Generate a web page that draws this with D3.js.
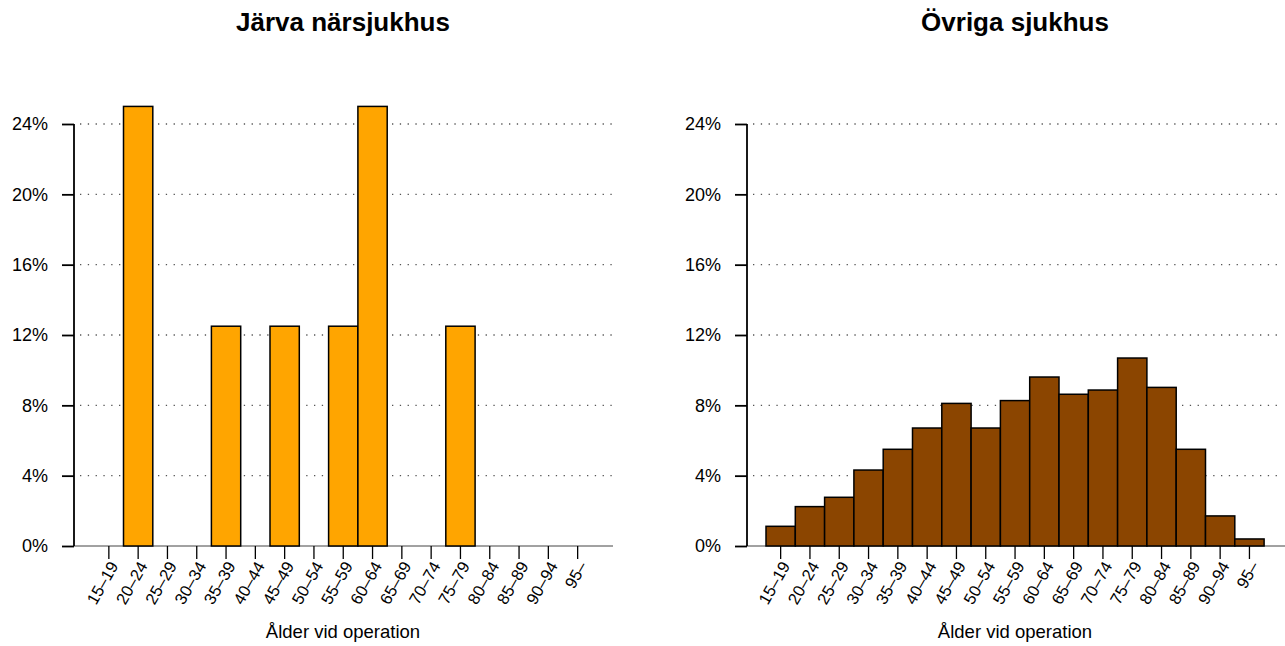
<!DOCTYPE html>
<html><head><meta charset="utf-8">
<script src="https://cdn.jsdelivr.net/npm/d3@7"></script>
<style>body{margin:0;background:#fff}svg{display:block}text{font-family:"Liberation Sans",Arial,sans-serif;fill:#000}</style>
</head><body><svg id="c" width="1285" height="646"></svg>
<script>
const categories = ["15–19","20–24","25–29","30–34","35–39","40–44","45–49","50–54","55–59","60–64","65–69","70–74","75–79","80–84","85–89","90–94","95–"];
const jarvaValues = [0,25,0,0,12.5,0,12.5,0,12.5,25,0,0,12.5,0,0,0,0];
const ovrigaValues = [1.12,2.24,2.77,4.32,5.5,6.71,8.11,6.71,8.27,9.61,8.63,8.87,10.69,9.02,5.5,1.71,0.4];
const yTicks = [0,4,8,12,16,20,24];
const titles = ["Järva närsjukhus","Övriga sjukhus"];
const xTitle = "Ålder vid operation";
const colors = ["#FFA500","#8B4500"];

const svg = d3.select("#c");
const panels = [
  {title:titles[0], values:jarvaValues, color:colors[0], axisX:74, bars:[94.2,592.3], gridX:[80,612], baseEnd:613, center:343},
  {title:titles[1], values:ovrigaValues, color:colors[1], axisX:747, bars:[766,1264.1], gridX:[753,1283], baseEnd:1285, center:1015}
];
const y = d3.scaleLinear().domain([0,24]).range([546,124]);

panels.forEach(p=>{
  const g = svg.append("g");
  const x = d3.scaleBand().domain(categories).range(p.bars).padding(0);
  // grid
  g.selectAll("line.grid").data(yTicks.filter(t=>t>0)).join("line")
    .attr("x1",p.gridX[0]).attr("x2",p.gridX[1])
    .attr("y1",d=>y(d)).attr("y2",d=>y(d))
    .attr("stroke","#555").attr("stroke-width",1.3).attr("stroke-dasharray","1.3,6.5");
  // baseline
  g.append("line").attr("x1",p.axisX).attr("x2",p.baseEnd).attr("y1",y(0)).attr("y2",y(0))
    .attr("stroke","#444").attr("stroke-width",1);
  // bars
  g.selectAll("rect").data(categories.map((c,i)=>({c,v:p.values[i]}))).join("rect")
    .attr("x",d=>x(d.c)).attr("width",x.bandwidth())
    .attr("y",d=>y(d.v)).attr("height",d=>y(0)-y(d.v))
    .attr("fill",p.color).attr("stroke","#000").attr("stroke-width",1.5);
  // y axis
  const ya = d3.axisLeft(y).tickValues(yTicks).tickFormat(d=>d+"%").tickSize(12).tickPadding(14);
  const yg = g.append("g").attr("transform",`translate(${p.axisX},0)`).call(ya);
  yg.select(".domain").attr("stroke-width",1.8).attr("d",`M0,${y(24)}V${y(0)}`);
  yg.selectAll(".tick line").attr("stroke-width",1.8);
  yg.selectAll("text").attr("font-size",18).attr("font-family","Liberation Sans, Arial, sans-serif");
  // x axis
  const xa = d3.axisBottom(x).tickSize(13).tickFormat("");
  const xg = g.append("g").attr("transform",`translate(0,${y(0)})`).call(xa);
  xg.select(".domain").remove();
  xg.selectAll(".tick line").attr("stroke-width",1.3);
  g.selectAll("text.xl").data(categories).join("text").attr("class","xl")
    .attr("transform",d=>`translate(${x(d)+x.bandwidth()/2+5},${y(0)+17}) rotate(-60)`)
    .attr("text-anchor","end").attr("dy","0.35em").attr("font-size",16.5).text(d=>d);
  // titles
  g.append("text").attr("x",p.center).attr("y",31).attr("text-anchor","middle")
    .attr("font-size",26).attr("font-weight","bold").text(p.title);
  g.append("text").attr("x",p.center).attr("y",638).attr("text-anchor","middle")
    .attr("font-size",18.5).text(xTitle);
});
</script></body></html>
